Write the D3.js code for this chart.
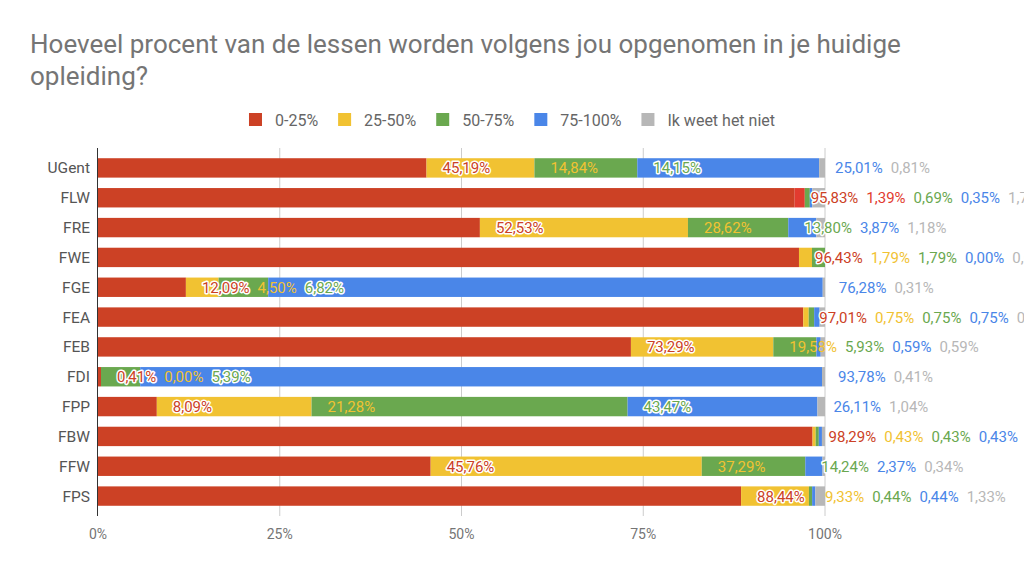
<!DOCTYPE html>
<html>
<head>
<meta charset="utf-8">
<script src="https://cdn.jsdelivr.net/npm/d3@7"></script>
<style>
  html, body { margin: 0; padding: 0; background: #fff; }
  svg { display: block; font-family: Roboto, "Noto Sans", sans-serif; }
</style>
</head>
<body>
<svg id="chart" width="1024" height="574"></svg>
<script>
// ---- data ----
const title = ["Hoeveel procent van de lessen worden volgens jou opgenomen in je huidige", "opleiding?"];
const categories = ["UGent", "FLW", "FRE", "FWE", "FGE", "FEA", "FEB", "FDI", "FPP", "FBW", "FFW", "FPS"];
const seriesNames = ["0-25%", "25-50%", "50-75%", "75-100%", "Ik weet het niet"];
const s0_25   = [45.19, 95.83, 52.53, 96.43, 12.09, 97.01, 73.29, 0.41, 8.09, 98.29, 45.76, 88.44];
const s25_50  = [14.84, 1.39, 28.62, 1.79, 4.50, 0.75, 19.58, 0.00, 21.28, 0.43, 37.29, 9.33];
const s50_75  = [14.15, 0.69, 13.80, 1.79, 6.82, 0.75, 5.93, 5.39, 43.47, 0.43, 14.24, 0.44];
const s75_100 = [25.01, 0.35, 3.87, 0.00, 76.28, 0.75, 0.59, 93.78, 26.11, 0.43, 2.37, 0.44];
const sUnknown = [0.81, 1.74, 1.18, 0.00, 0.31, 0.74, 0.59, 0.41, 1.04, 0.42, 0.34, 1.33];
const xTicks = [0, 0.25, 0.5, 0.75, 1];

// ---- style ----
const colors = ["#cc4125", "#f1c232", "#6aa84f", "#4a86e8", "#b7b7b7"];
const pointColorOverride = { "FLW|25-50%": "#e23b2f" };
const haloSeries = new Set(["0-25%", "50-75%"]);

(function () {
const seriesValues = [s0_25, s25_50, s50_75, s75_100, sUnknown];
const rows = categories.map((c, i) => {
  const r = { cat: c };
  seriesNames.forEach((s, k) => r[s] = seriesValues[k][i]);
  return r;
});

const svg = d3.select("#chart");
const plotLeft = 98, plotRight = 825, plotTop = 153, plotBottom = 511;

const x = d3.scaleLinear().domain([0, 1]).range([plotLeft, plotRight]);
const y = d3.scaleBand().domain(categories).range([plotTop, plotBottom]).paddingInner(0.35).paddingOuter(0.175);
const color = d3.scaleOrdinal().domain(seriesNames).range(colors);

const stack = d3.stack().keys(seriesNames).offset(d3.stackOffsetExpand);
const stacked = stack(rows);

// title
svg.append("g").selectAll("text").data(title).join("text")
  .attr("x", 30).attr("y", (d, i) => 53 + i * 32)
  .attr("font-size", 26).attr("fill", "#757575")
  .text(d => d);

// legend
const legend = svg.append("g");
const legItems = legend.selectAll("g").data(seriesNames).join("g");
legItems.append("rect").attr("width", 13).attr("height", 13).attr("y", -7)
  .attr("fill", d => color(d));
legItems.append("text").attr("x", 26).attr("y", 5.5).attr("font-size", 16)
  .attr("fill", "#666").text(d => d);
let lx = 0;
legItems.each(function () {
  const g = d3.select(this);
  const tw = g.select("text").node().getComputedTextLength();
  g.attr("transform", `translate(${lx},120)`);
  lx += 26 + tw + 20;
});
const legW = lx - 20;
legend.attr("transform", `translate(${512 - legW / 2},0)`);

// gridlines
svg.append("g").selectAll("line").data(xTicks.filter(t => t > 0)).join("line")
  .attr("x1", d => x(d)).attr("x2", d => x(d))
  .attr("y1", 148).attr("y2", 516)
  .attr("stroke", "#cccccc").attr("stroke-width", 1);

// tick labels
svg.append("g").selectAll("text").data(xTicks).join("text")
  .attr("x", d => x(d)).attr("y", 539)
  .attr("text-anchor", "middle").attr("font-size", 14).attr("fill", "#757575")
  .text(d => d3.format(".0%")(d));

// bars
svg.append("g").selectAll("g").data(stacked).join("g")
  .each(function (layer) {
    d3.select(this).selectAll("rect").data(layer).join("rect")
      .attr("x", d => x(d[0]))
      .attr("width", d => Math.max(0, x(d[1]) - x(d[0])))
      .attr("y", d => y(d.data.cat))
      .attr("height", y.bandwidth())
      .attr("fill", d => pointColorOverride[d.data.cat + "|" + layer.key] || color(layer.key));
  });

// baseline
svg.append("line").attr("x1", x(0) - 0.5).attr("x2", x(0) - 0.5)
  .attr("y1", 148).attr("y2", 516).attr("stroke", "#333").attr("stroke-width", 1);

// category labels
svg.append("g").selectAll("text").data(categories).join("text")
  .attr("x", 90).attr("y", d => y(d) + y.bandwidth() / 2 + 5.5)
  .attr("text-anchor", "end").attr("font-size", 15.5).attr("fill", "#555")
  .text(d => d);

// value labels
const fmt = v => d3.format(".2f")(v).replace(".", ",") + "%";
const labG = svg.append("g");
categories.forEach((cat, i) => {
  let prevEnd = -Infinity;
  const cy = y(cat) + y.bandwidth() / 2 + 5.5;
  stacked.forEach((layer, k) => {
    const d = layer[i];
    const key = layer.key;
    const tx = Math.max(x(d[1]) + 16, prevEnd + 8);
    const t = labG.append("text")
      .attr("x", tx).attr("y", cy)
      .attr("font-size", 15)
      .attr("fill", pointColorOverride[cat + "|" + key] || color(key))
      .text(fmt(seriesValues[k][i]));
    if (haloSeries.has(key)) {
      t.attr("stroke", "#fff").attr("stroke-width", 3)
       .attr("stroke-linejoin", "round").attr("paint-order", "stroke");
    }
    prevEnd = tx + t.node().getComputedTextLength();
  });
});
})();
</script>
</body>
</html>
